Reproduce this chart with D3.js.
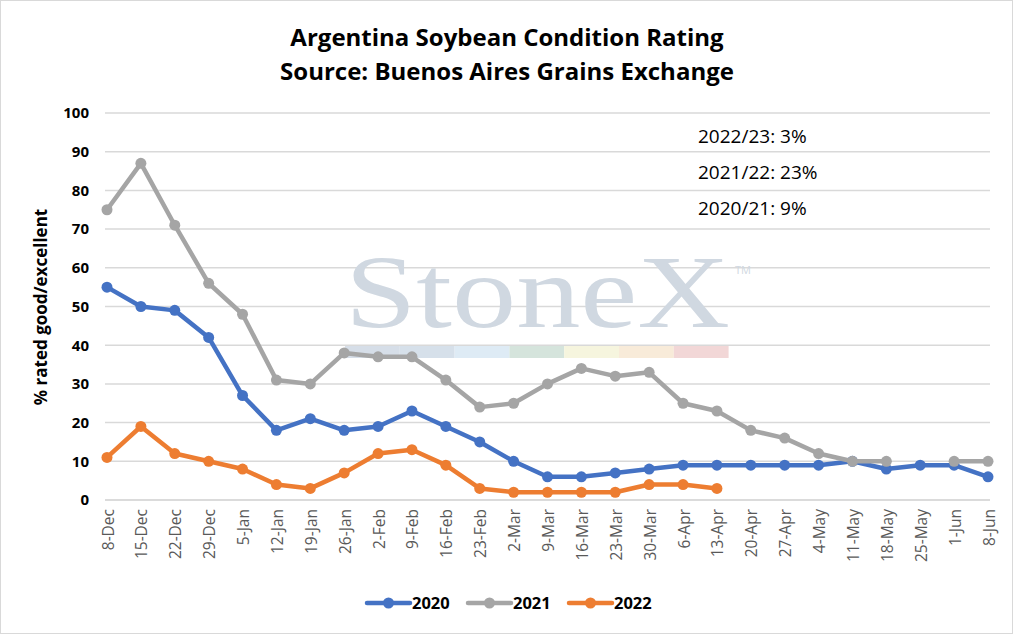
<!DOCTYPE html>
<html>
<head>
<meta charset="utf-8">
<script src="https://cdn.jsdelivr.net/npm/d3@7"></script>
<style>
  body { margin: 0; background: #fff; }
  svg { font-family: "Open Sans", "Liberation Sans", sans-serif; }
</style>
</head>
<body>
<svg id="chart"></svg>
<script>
var weeks = ["8-Dec","15-Dec","22-Dec","29-Dec","5-Jan","12-Jan","19-Jan","26-Jan","2-Feb","9-Feb",
  "16-Feb","23-Feb","2-Mar","9-Mar","16-Mar","23-Mar","30-Mar","6-Apr","13-Apr","20-Apr",
  "27-Apr","4-May","11-May","18-May","25-May","1-Jun","8-Jun"]

var s2020 = [55,50,49,42,27,18,21,18,19,23,19,15,10,6,6,7,8,9,9,9,9,9,10,8,9,9,6]
var s2021 = [75,87,71,56,48,31,30,38,37,37,31,24,25,30,34,32,33,25,23,18,16,12,10,10,null,10,10]
var s2022 = [11,19,12,10,8,4,3,7,12,13,9,3,2,2,2,2,4,4,3]

var seriesNames = ["2020","2021","2022"]
var seriesColors = ["#4472C4","#A5A5A5","#ED7D31"]
var yTicks = [0,10,20,30,40,50,60,70,80,90,100]
var notes = ["2022/23: 3%","2021/22: 23%","2020/21: 9%"]
var logoColors = ["#d6dee8","#d6e0ea","#deebf5","#d5e4dc","#f6f5de","#f8ebd9","#f2d7d7"]

var W = 1013, H = 634
var svg = d3.select("#chart").attr("width", W).attr("height", H)

svg.append("rect")
  .attr("x", 0.5).attr("y", 0.5)
  .attr("width", W - 1).attr("height", H - 1)
  .attr("fill", "#fff").attr("stroke", "#d9d9d9")

var xScale = d3.scalePoint().domain(weeks).range([107, 988])
var yScale = d3.scaleLinear().domain([0, 100]).range([500, 113])

// title
svg.append("text").attr("x", 507).attr("y", 46)
  .attr("text-anchor", "middle").attr("font-size", 24).attr("font-weight", "bold")
  .text("Argentina Soybean Condition Rating")
svg.append("text").attr("x", 507).attr("y", 80)
  .attr("text-anchor", "middle").attr("font-size", 24).attr("font-weight", "bold")
  .text("Source: Buenos Aires Grains Exchange")

// gridlines
svg.append("g").selectAll("line")
  .data(yTicks)
  .enter().append("line")
  .attr("x1", 105).attr("x2", 990)
  .attr("y1", function(d){ return yScale(d) })
  .attr("y2", function(d){ return yScale(d) })
  .attr("stroke", "#d9d9d9").attr("stroke-width", 1.5)

// watermark
var wm = svg.append("g")
wm.append("text").attr("x", 345).attr("y", 327)
  .attr("font-family", "'Liberation Serif', 'DejaVu Serif', serif")
  .attr("font-size", 104).attr("fill", "#d0d8e1")
  .attr("textLength", 385).attr("lengthAdjust", "spacingAndGlyphs")
  .text("StoneX")
wm.append("text").attr("x", 735).attr("y", 274)
  .attr("font-size", 11).attr("fill", "#d0d8e1").text("TM")
wm.selectAll("rect").data(logoColors).enter().append("rect")
  .attr("x", function(d, i){ return 345 + i * 54.8 })
  .attr("y", 346).attr("width", 54.8).attr("height", 12)
  .attr("fill", function(d){ return d })

// y axis
var yAxis = d3.axisLeft(yScale).tickValues(yTicks).tickSize(0).tickPadding(0)
var yg = svg.append("g").attr("transform", "translate(89,0)").call(yAxis)
yg.select(".domain").remove()
yg.selectAll("text").attr("font-size", 15).attr("font-weight", "bold")
  .attr("fill", "#000").attr("font-family", "'Open Sans', sans-serif")

svg.append("text")
  .attr("transform", "translate(47,307) rotate(-90)")
  .attr("text-anchor", "middle").attr("font-size", 17).attr("font-weight", "bold")
  .text("% rated good/excellent")

// x axis
var xAxis = d3.axisBottom(xScale).tickSize(0).tickPadding(0)
var xg = svg.append("g").attr("transform", "translate(0,500)").call(xAxis)
xg.select(".domain").attr("stroke", "#d9d9d9").attr("stroke-width", 1.5)
  .attr("d", "M105,0H990")
xg.selectAll("text")
  .attr("font-size", 15.5).attr("fill", "#595959")
  .attr("font-family", "'Open Sans', sans-serif")
  .attr("text-anchor", "end")
  .attr("transform", "translate(6,9) rotate(-90)")
  .attr("dy", 0).attr("y", 0).attr("x", 0)

// series
var allSeries = [s2020, s2021, s2022]
var line = d3.line()
  .defined(function(d){ return d != null })
  .x(function(d, i){ return xScale(weeks[i]) })
  .y(function(d){ return yScale(d) })

allSeries.forEach(function(vals, k){
  var g = svg.append("g")
  g.append("path").datum(vals)
    .attr("d", line)
    .attr("fill", "none").attr("stroke", seriesColors[k])
    .attr("stroke-width", 4.5).attr("stroke-linejoin", "round").attr("stroke-linecap", "round")
  g.selectAll("circle")
    .data(vals.map(function(v, i){ return {v: v, w: weeks[i]} }).filter(function(d){ return d.v != null }))
    .enter().append("circle")
    .attr("cx", function(d){ return xScale(d.w) })
    .attr("cy", function(d){ return yScale(d.v) })
    .attr("r", 5.5)
    .attr("fill", seriesColors[k])
})

// notes
svg.selectAll(".note").data(notes).enter().append("text")
  .attr("class", "note")
  .attr("x", 698).attr("y", function(d, i){ return 143 + i * 36 })
  .attr("font-size", 19).attr("fill", "#000")
  .text(function(d){ return d })

// legend
var legX = [367, 468, 569]
var leg = svg.append("g")
seriesNames.forEach(function(n, k){
  var lg = leg.append("g").attr("transform", "translate(" + legX[k] + ",603)")
  lg.append("line").attr("x1", 0).attr("x2", 43).attr("y1", 0).attr("y2", 0)
    .attr("stroke", seriesColors[k]).attr("stroke-width", 4.5).attr("stroke-linecap", "round")
  lg.append("circle").attr("cx", 21.5).attr("cy", 0).attr("r", 5.5).attr("fill", seriesColors[k])
  lg.append("text").attr("x", 45).attr("y", 6).attr("font-size", 16.5)
    .attr("font-weight", "bold").text(n)
})
</script>
</body>
</html>
